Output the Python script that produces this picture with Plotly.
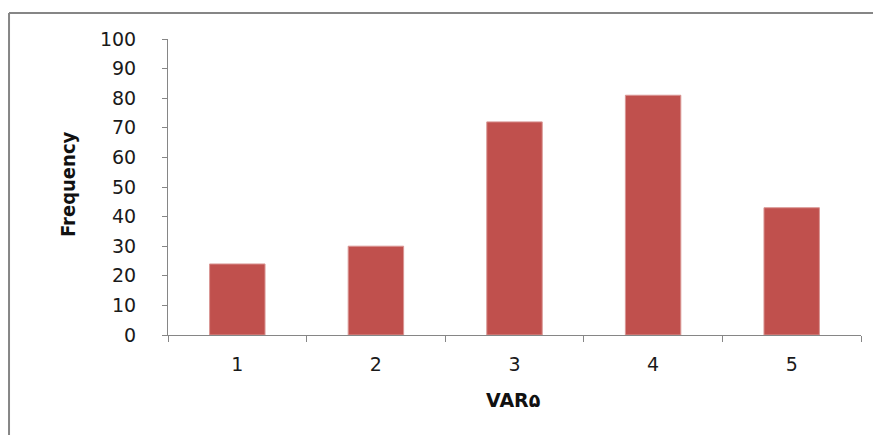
import plotly.graph_objects as go

categories = ["1", "2", "3", "4", "5"]
frequency = [24, 30, 72, 81, 43]
y_ticks = [0, 10, 20, 30, 40, 50, 60, 70, 80, 90, 100]

AXIS = "#868686"
BAR = "#C0504D"
FONT = "DejaVu Sans"

fig = go.Figure(go.Bar(
    x=categories, y=frequency,
    marker=dict(color=BAR, line=dict(color="#D99694", width=1)),
    width=0.4,
))

fig.update_layout(
    width=881, height=435,
    margin=dict(l=160, r=28, t=31, b=108, autoexpand=False),
    paper_bgcolor="white", plot_bgcolor="white",
    showlegend=False,
    font=dict(family=FONT, color="#1a1a1a", size=19),
)
fig.update_xaxes(
    type="category", tickson="boundaries",
    ticks="outside", ticklen=6, tickcolor=AXIS, tickwidth=1,
    showline=True, linecolor=AXIS, linewidth=1,
    showgrid=False, zeroline=False,
    tickfont=dict(family=FONT, size=19, color="#1a1a1a"),
    ticklabelstandoff=12,
)
fig.update_yaxes(
    range=[0, 100], tickvals=y_ticks,
    ticks="outside", ticklen=5, tickcolor=AXIS, tickwidth=1,
    showline=True, linecolor=AXIS, linewidth=1,
    showgrid=False, zeroline=False,
    tickfont=dict(family=FONT, size=19, color="#1a1a1a"),
    ticklabelstandoff=22,
)

# axis titles
fig.add_annotation(text="Frequency", xref="paper", yref="paper", x=-0.1443, y=0.507,
                   xanchor="center", yanchor="middle", textangle=-90, showarrow=False,
                   font=dict(family="DejaVu Sans Condensed", size=20, color="#111111", weight="bold"))
fig.add_annotation(text="VAR۵", xref="paper", yref="paper", x=0.498, y=-0.2196,
                   xanchor="center", yanchor="middle", showarrow=False,
                   font=dict(family="DejaVu Sans", size=19, color="#111111", weight="bold"))

# chart frame (left and top edges visible in the cropped reference)
fig.add_shape(type="line", xref="paper", yref="paper", x0=-0.2294, x1=-0.2294, y0=-0.4, y1=1.0878,
              line=dict(color=AXIS, width=2))
fig.add_shape(type="line", xref="paper", yref="paper", x0=-0.2294, x1=1.1, y0=1.0878, y1=1.0878,
              line=dict(color=AXIS, width=2))

fig.write_html("out.html")
